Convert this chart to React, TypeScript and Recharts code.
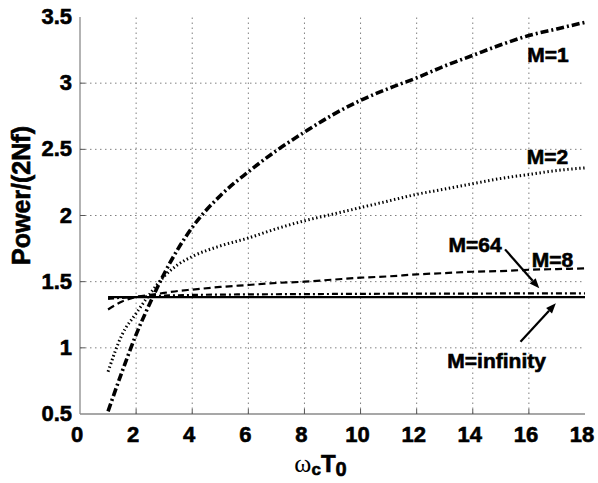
import React from 'react';
import { LineChart, Line, XAxis, YAxis, ReferenceDot, ReferenceLine } from 'recharts';

const xValues = [1, 1.5, 2, 2.5, 3, 3.5, 4, 5, 6, 7, 8, 9, 10, 11, 12, 13, 14, 15, 16, 17, 18];
const m1Values = [0.52, 0.82, 1.1, 1.34, 1.56, 1.75, 1.91, 2.15, 2.33, 2.49, 2.63, 2.76, 2.87, 2.96, 3.04, 3.13, 3.21, 3.29, 3.36, 3.41, 3.46];
const m2Values = [0.82, 1.1, 1.26, 1.41, 1.54, 1.63, 1.69, 1.77, 1.83, 1.9, 1.96, 2.01, 2.06, 2.11, 2.16, 2.2, 2.24, 2.28, 2.31, 2.34, 2.36];
const m8Values = [1.29, 1.35, 1.385, 1.4, 1.415, 1.43, 1.44, 1.46, 1.475, 1.49, 1.5, 1.515, 1.53, 1.54, 1.555, 1.565, 1.575, 1.58, 1.59, 1.595, 1.6];
const m64Values = [1.37, 1.378, 1.384, 1.39, 1.395, 1.397, 1.4, 1.402, 1.404, 1.405, 1.406, 1.407, 1.408, 1.409, 1.41, 1.41, 1.41, 1.411, 1.411, 1.412, 1.412];
const mInfValues = [1.383, 1.383, 1.383, 1.383, 1.383, 1.383, 1.383, 1.383, 1.383, 1.383, 1.383, 1.383, 1.383, 1.383, 1.383, 1.383, 1.383, 1.383, 1.383, 1.383, 1.383];

const xTicks = [0, 2, 4, 6, 8, 10, 12, 14, 16, 18];
const yTicks = [0.5, 1, 1.5, 2, 2.5, 3, 3.5];
const xGrid = [2, 4, 6, 8, 10, 12, 14, 16];
const yGrid = [1, 1.5, 2, 2.5, 3];

const FONT = '"Liberation Sans", Arial, Helvetica, sans-serif';

const toPoints = (ys: number[]) => xValues.map((x, i) => ({ x, y: ys[i] }));

const X_MIN = 0, X_MAX = 18, Y_MIN = 0.5, Y_MAX = 3.5;
const TICK_LEN = 5;
const TICK_COLOR = '#555';
const GRID_COLOR = '#808080';
const BORDER = { stroke: '#8a8a8a', strokeWidth: 1.3 };
const BOLD_TEXT = { fontFamily: FONT, fontWeight: 'bold' as const, fill: '#000', stroke: '#000', strokeWidth: 0.6 };

const BottomTick = (p: any) => {
  const v = p.payload.value;
  const inner = v > X_MIN && v < X_MAX;
  return (
    <g>
      {inner && <line x1={p.x} y1={p.y} x2={p.x} y2={p.y - TICK_LEN} stroke={TICK_COLOR} />}
      <text x={p.x - 3} y={p.y + 28} textAnchor="middle" fontSize={22} {...BOLD_TEXT}>{v}</text>
    </g>
  );
};
const TopTick = (p: any) => {
  const v = p.payload.value;
  const inner = v > X_MIN && v < X_MAX;
  return inner ? <line x1={p.x} y1={p.y} x2={p.x} y2={p.y + TICK_LEN} stroke={TICK_COLOR} /> : <g />;
};
const LeftTick = (p: any) => {
  const v = p.payload.value;
  const inner = v > Y_MIN && v < Y_MAX;
  return (
    <g>
      {inner && <line x1={p.x} y1={p.y} x2={p.x + TICK_LEN} y2={p.y} stroke={TICK_COLOR} />}
      <text x={p.x - 8} y={p.y + 7} textAnchor="end" fontSize={22} {...BOLD_TEXT}>{v}</text>
    </g>
  );
};
const RightTick = (p: any) => {
  const v = p.payload.value;
  const inner = v > Y_MIN && v < Y_MAX;
  return inner ? <line x1={p.x} y1={p.y} x2={p.x - TICK_LEN} y2={p.y} stroke={TICK_COLOR} /> : <g />;
};

const XLabel = (props: any) => {
  const vb = props.viewBox;
  const cx = vb.x + vb.width / 2 - 12;
  const by = vb.y + 58;
  return (
    <text x={cx} y={by} textAnchor="middle" fill="#000">
      <tspan fontFamily='"Liberation Serif", "DejaVu Serif", serif' fontSize={26}>ω</tspan>
      <tspan fontSize={17} dy={3} {...BOLD_TEXT}>c</tspan>
      <tspan fontSize={24} dy={-3} {...BOLD_TEXT}>T</tspan>
      <tspan fontSize={20} dy={4} {...BOLD_TEXT}>0</tspan>
    </text>
  );
};

const YLabel = (props: any) => {
  const vb = props.viewBox;
  const cy = vb.y + vb.height / 2 - 20;
  const x = 30;
  return (
    <text x={x} y={cy} transform={`rotate(-90, ${x}, ${cy})`} textAnchor="middle" fontSize={25} {...BOLD_TEXT}>
      Power/(2Nf)
    </text>
  );
};

const makeTextShape = (label: string) => (p: any) => (
  <text x={p.cx} y={p.cy} textAnchor="middle" dominantBaseline="central" fontSize={21} {...BOLD_TEXT}>{label}</text>
);

const Arrow = (p: any) => {
  const { x1, y1, x2, y2 } = p;
  const dx = x2 - x1, dy = y2 - y1;
  const len = Math.sqrt(dx * dx + dy * dy) || 1;
  const ux = dx / len, uy = dy / len;
  const hl = 10, hw = 4;
  const bx = x2 - ux * hl, by = y2 - uy * hl;
  const pts = `${x2},${y2} ${bx - uy * hw},${by + ux * hw} ${bx + uy * hw},${by - ux * hw}`;
  return (
    <g>
      <line x1={x1} y1={y1} x2={bx} y2={by} stroke="#000" strokeWidth={2.2} />
      <polygon points={pts} fill="#000" />
    </g>
  );
};

const labels = [
  { text: 'M=1', x: 16.68, y: 3.22 },
  { text: 'M=2', x: 16.66, y: 2.446 },
  { text: 'M=64', x: 14.08, y: 1.784 },
  { text: 'M=8', x: 16.84, y: 1.671 },
  { text: 'M=infinity', x: 14.85, y: 0.907 },
];

export default function App() {
  return (
    <div style={{ position: 'absolute', left: 0, top: 0, width: 598, height: 483, background: '#fff' }}>
      <LineChart width={598} height={483} margin={{ top: 17, right: 13, bottom: 0, left: 0 }}>
        <XAxis
          xAxisId={0}
          type="number"
          dataKey="x"
          domain={[X_MIN, X_MAX]}
          ticks={xTicks}
          interval={0}
          height={69}
          tickSize={0}
          tickMargin={0}
          tick={BottomTick}
          axisLine={BORDER}
          tickLine={false}
          allowDataOverflow
          label={{ content: XLabel }}
        />
        <XAxis
          xAxisId="top"
          orientation="top"
          type="number"
          domain={[X_MIN, X_MAX]}
          ticks={xTicks}
          interval={0}
          height={0}
          tickSize={0}
          tickMargin={0}
          tick={TopTick}
          axisLine={BORDER}
          tickLine={false}
          allowDataOverflow
        />
        <YAxis
          yAxisId={0}
          type="number"
          domain={[Y_MIN, Y_MAX]}
          ticks={yTicks}
          interval={0}
          width={80}
          tickSize={0}
          tickMargin={0}
          tick={LeftTick}
          axisLine={BORDER}
          tickLine={false}
          allowDataOverflow
          label={{ content: YLabel }}
        />
        <YAxis
          yAxisId="right"
          orientation="right"
          type="number"
          domain={[Y_MIN, Y_MAX]}
          ticks={yTicks}
          interval={0}
          width={0}
          tickSize={0}
          tickMargin={0}
          tick={RightTick}
          axisLine={BORDER}
          tickLine={false}
          allowDataOverflow
        />
        {xGrid.map((g) => (
          <ReferenceLine key={`gx${g}`} x={g} stroke={GRID_COLOR} strokeWidth={1} strokeDasharray="1.5 3.5" />
        ))}
        {yGrid.map((g) => (
          <ReferenceLine key={`gy${g}`} y={g} stroke={GRID_COLOR} strokeWidth={1} strokeDasharray="1.5 3.5" />
        ))}
        <Line data={toPoints(mInfValues)} dataKey="y" type="monotone" stroke="#000" strokeWidth={2.2} dot={false} activeDot={false} isAnimationActive={false} />
        <Line data={toPoints(m64Values)} dataKey="y" type="monotone" stroke="#000" strokeWidth={2.2} strokeDasharray="6 3 2 3" dot={false} activeDot={false} isAnimationActive={false} />
        <Line data={toPoints(m8Values)} dataKey="y" type="monotone" stroke="#000" strokeWidth={2.2} strokeDasharray="7 4" dot={false} activeDot={false} isAnimationActive={false} />
        <Line data={toPoints(m2Values)} dataKey="y" type="monotone" stroke="#000" strokeWidth={3} strokeDasharray="1.4 2.6" dot={false} activeDot={false} isAnimationActive={false} />
        <Line data={toPoints(m1Values)} dataKey="y" type="monotone" stroke="#000" strokeWidth={3.6} strokeDasharray="8 3 2 3" dot={false} activeDot={false} isAnimationActive={false} />
        {labels.map((l) => (
          <ReferenceDot key={l.text} x={l.x} y={l.y} r={0} shape={makeTextShape(l.text)} />
        ))}
        <ReferenceLine segment={[{ x: 15.15, y: 1.744 }, { x: 16.37, y: 1.45 }]} shape={Arrow} />
        <ReferenceLine segment={[{ x: 15.7, y: 1.046 }, { x: 16.96, y: 1.336 }]} shape={Arrow} />
      </LineChart>
    </div>
  );
}
